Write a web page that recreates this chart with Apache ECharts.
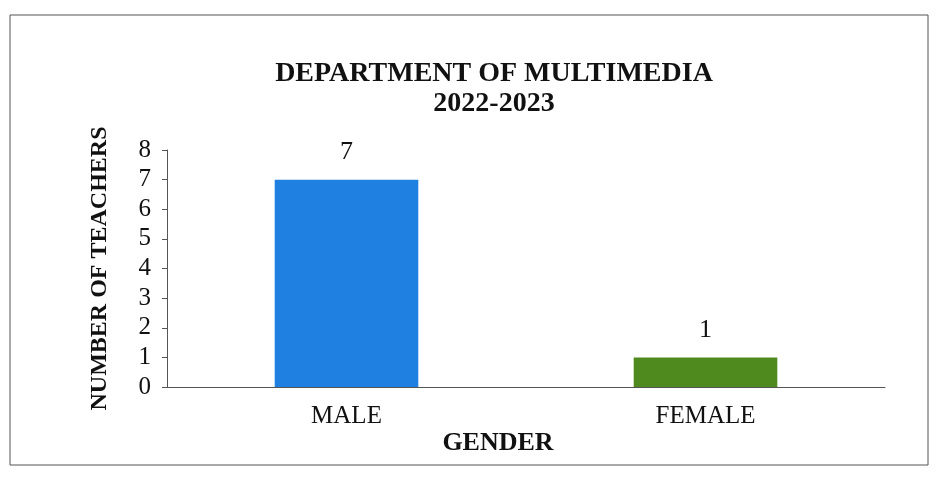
<!DOCTYPE html>
<html><head><meta charset="utf-8">
<script src="https://cdn.jsdelivr.net/npm/echarts@6/dist/echarts.min.js"></script>
<style>html,body{margin:0;padding:0;background:#fff}#c{width:939px;height:495px}</style>
</head><body><div id="c"></div>
<script>
const categories = ['MALE', 'FEMALE'];
const teachers = [7, 1];
const barColors = ['#1f80e2', '#4f8a1e'];
const yTicks = [0, 1, 2, 3, 4, 5, 6, 7, 8];

const chart = echarts.init(document.getElementById('c'));
const serif = '"Liberation Serif", "Times New Roman", serif';
chart.setOption({
  backgroundColor: '#ffffff',
  animation: false,
  title: {
    text: 'DEPARTMENT OF MULTIMEDIA\n2022-2023',
    left: 489, top: 54, textAlign: 'center',
    textStyle: { fontFamily: serif, fontWeight: 'bold', fontSize: 28, color: '#111', lineHeight: 30 }
  },
  graphic: [{
    type: 'rect', shape: { x: 10, y: 15, width: 918, height: 450 },
    style: { fill: 'none', stroke: '#555', lineWidth: 1 }, silent: true
  }],
  grid: { left: 167, right: 54, top: 150, bottom: 108 },
  xAxis: {
    type: 'category', data: categories,
    name: 'GENDER', nameLocation: 'middle', nameGap: 43,
    nameTextStyle: { fontFamily: serif, fontWeight: 'bold', fontSize: 26, color: '#111', padding: [0, 0, 0, -56] },
    axisLine: { lineStyle: { color: '#555', width: 1 } },
    axisTick: { show: false },
    axisLabel: { fontFamily: serif, fontSize: 25, color: '#111', margin: 17 }
  },
  yAxis: {
    type: 'value', min: yTicks[0], max: yTicks[yTicks.length - 1], interval: 1,
    name: 'NUMBER OF TEACHERS', nameLocation: 'middle', nameGap: 55, nameRotate: 90,
    nameTextStyle: { fontFamily: serif, fontWeight: 'bold', fontSize: 24, color: '#111' },
    axisLine: { show: true, lineStyle: { color: '#555', width: 1 } },
    axisTick: { show: true, length: 5, lineStyle: { color: '#555' } },
    splitLine: { show: false },
    axisLabel: { fontFamily: serif, fontSize: 25, color: '#111', margin: 16 }
  },
  series: [{
    type: 'bar', barWidth: '40%',
    data: teachers.map((v, i) => ({ value: v, itemStyle: { color: barColors[i] } })),
    label: { show: true, position: 'top', distance: 14, fontFamily: serif, fontSize: 26, color: '#111' }
  }]
});
</script></body></html>
